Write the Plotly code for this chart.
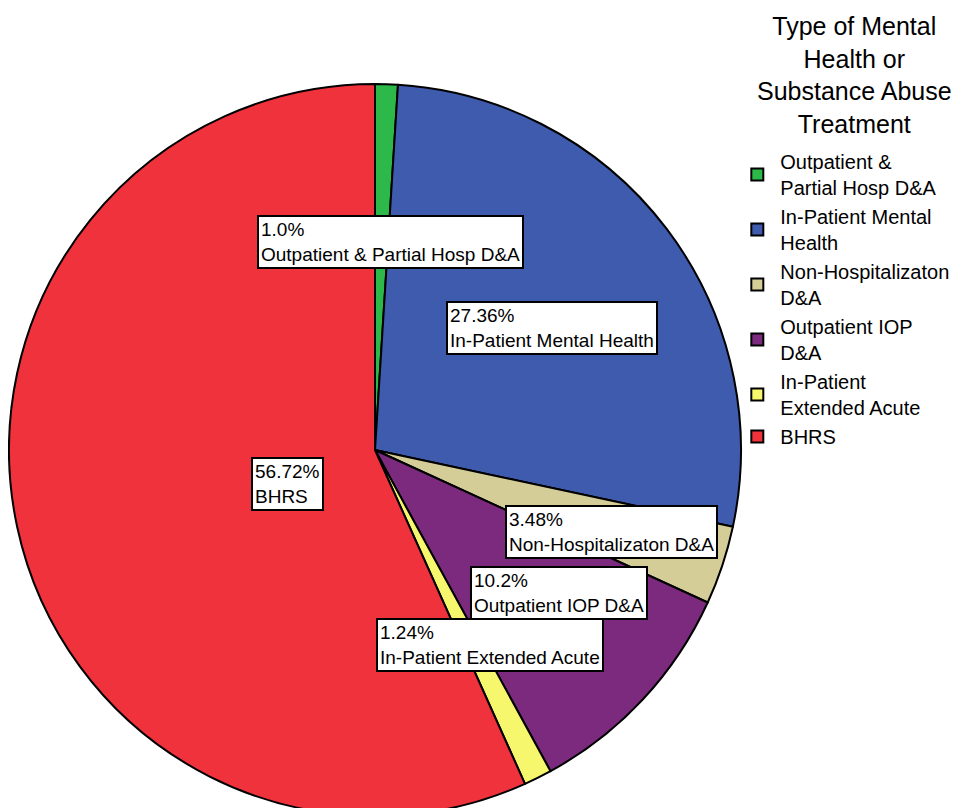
import math
import plotly.graph_objects as go

# data
labels = ['Outpatient & Partial Hosp D&A', 'In-Patient Mental Health',
          'Non-Hospitalizaton D&A', 'Outpatient IOP D&A',
          'In-Patient Extended Acute', 'BHRS']
legend_names = ['Outpatient &<br>Partial Hosp D&A', 'In-Patient Mental<br>Health',
                'Non-Hospitalizaton<br>D&A', 'Outpatient IOP<br>D&A',
                'In-Patient<br>Extended Acute', 'BHRS']
pct_text = ['1.0%', '27.36%', '3.48%', '10.2%', '1.24%', '56.72%']
values = [1.0, 27.36, 3.48, 10.2, 1.24, 56.72]

colors = ['#2db84a', '#3f5bad', '#d4cd97', '#7b2a7e', '#f7f76e', '#f0323c']

W, H = 962, 808
top = 76
cx, cy, r = 375, 448, 365
label_r = [0.66, 0.58, 0.66, 0.66, 0.66, 0.37]   # where the boxes sit, fraction of radius

fig = go.Figure()
fig.add_trace(go.Pie(
    labels=legend_names,
    values=values,
    sort=False,
    direction='clockwise',
    rotation=0,
    textinfo='none',
    hoverinfo='label+percent',
    marker=dict(colors=colors, line=dict(color='black', width=2)),
    domain=dict(x=[0, 2 * (cx - 8) / W], y=[0, (H - top) / H]),
))

# boxed labels placed at the middle angle of each slice
total = sum(values)
cum = 0
for v, p, lab, f in zip(values, pct_text, labels, label_r):
    mid = (cum + v / 2) / total * 2 * math.pi
    cum += v
    px = cx + f * r * math.sin(mid)
    py = cy - f * r * math.cos(mid)
    fig.add_annotation(
        x=px / W, y=1 - py / H, xref='paper', yref='paper',
        text=p + '<br>' + lab, showarrow=False, align='left',
        font=dict(size=19, color='black'),
        bgcolor='white', bordercolor='black', borderwidth=2, borderpad=2,
    )

# legend title
fig.add_annotation(
    x=846 / W, y=1 - 2 / H, xref='paper', yref='paper',
    xanchor='center', yanchor='top', showarrow=False, align='center',
    text='Type of Mental<br>Health or<br>Substance Abuse<br>Treatment',
    font=dict(size=25, color='black'),
)

fig.update_layout(
    width=W, height=H,
    margin=dict(l=0, r=0, t=0, b=0),
    paper_bgcolor='white', plot_bgcolor='white',
    font=dict(family='Liberation Sans, Arial, sans-serif', color='black'),
    legend=dict(
        font=dict(size=20),
        bgcolor='rgba(0,0,0,0)',
        x=0.755, xanchor='left',
        y=1 - 134 / H, yanchor='top',
        itemwidth=36,
        tracegroupgap=0,
    ),
)

fig.write_html("out.html")
